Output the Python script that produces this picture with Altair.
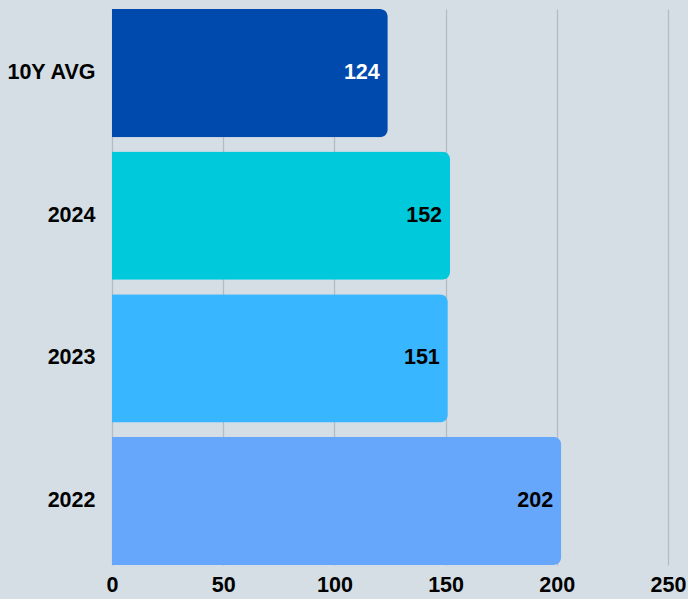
import altair as alt
import pandas as pd

categories = ["10Y AVG", "2024", "2023", "2022"]
values = [124, 152, 151, 202]
bar_colors = ["#004aad", "#00c9db", "#38b6ff", "#66a6fb"]
label_colors = ["#ffffff", "#000000", "#000000", "#000000"]
x_ticks = [0, 50, 100, 150, 200, 250]

df = pd.DataFrame({"cat": categories, "val": values, "col": bar_colors, "lcol": label_colors})

FONT = "Liberation Sans"
FS = 21.5

xscale = alt.Scale(domain=[0, 250], nice=False, zero=True)
yscale = alt.Scale(paddingInner=0.1, paddingOuter=0)

x = alt.X("val:Q", scale=xscale,
          axis=alt.Axis(values=x_ticks, title=None, domain=False, ticks=False,
                        labelFont=FONT, labelFontSize=FS, labelFontWeight="bold", labelColor="#000000",
                        labelPadding=9, gridColor="#b4bcc3", gridWidth=1.3, labelFlush=False))
y = alt.Y("cat:N", sort=categories, scale=yscale,
          axis=alt.Axis(title=None, domain=False, ticks=False, grid=False,
                        labelFont=FONT, labelFontSize=FS, labelFontWeight="bold", labelColor="#000000",
                        labelPadding=17))

bars = alt.Chart(df).mark_bar(cornerRadiusEnd=8).encode(
    x=x, y=y, color=alt.Color("col:N", scale=None)
)
text = alt.Chart(df).mark_text(align="right", baseline="middle", dx=-8, font=FONT,
                               fontSize=FS, fontWeight="bold").encode(
    x=alt.X("val:Q", scale=xscale),
    y=alt.Y("cat:N", sort=categories, scale=yscale),
    text="val:Q",
    color=alt.Color("lcol:N", scale=None),
)

chart = (bars + text).properties(
    width=556, height=556,
    autosize=alt.AutoSizeParams(type="none"),
    padding={"left": 112, "top": 9, "right": 20, "bottom": 34},
    background="#d4dee4",
).configure_view(stroke=None)

chart.save("out.html", embed_options={"renderer": "svg", "actions": False})
